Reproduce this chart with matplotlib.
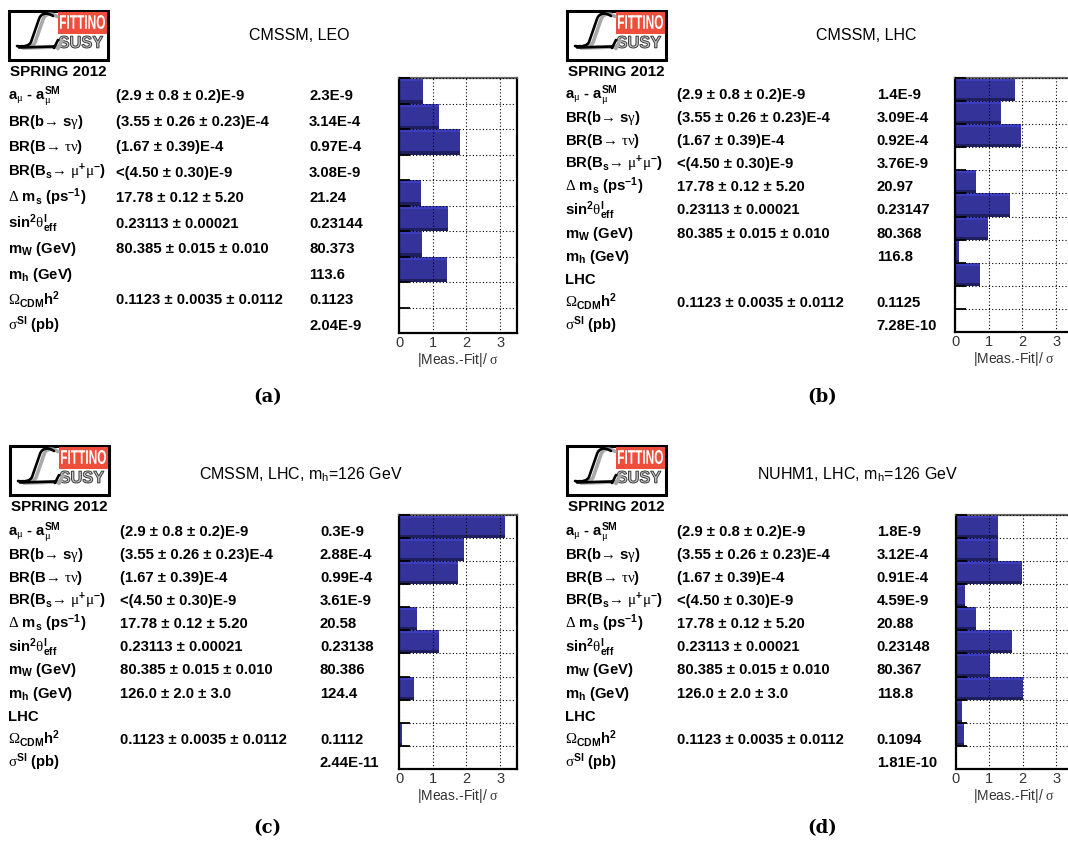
import matplotlib
matplotlib.use("Agg")
import matplotlib.pyplot as plt
import matplotlib.patches as mpatches
from matplotlib.path import Path
from matplotlib.textpath import TextPath
from matplotlib.font_manager import FontProperties
from matplotlib import transforms

W, H = 1068, 845

plt.rcParams['font.family'] = ['Liberation Sans', 'DejaVu Sans']
plt.rcParams['mathtext.fontset'] = 'custom'
plt.rcParams['mathtext.default'] = 'regular'
plt.rcParams['mathtext.rm'] = 'Liberation Sans'
plt.rcParams['mathtext.sf'] = 'Liberation Serif'

# observables (rows of the table)
obs_leo = [r'a$_{\mathsf{\mu}}$ - a$_{\mathsf{\mu}}^{SM}$',
           r'BR(b$\mathsf{→}$ s$\mathsf{\gamma}$)',
           r'BR(B$\mathsf{→}$ $\mathsf{\tau\nu}$)',
           r'BR(B$_{s}\mathsf{→}$ $\mathsf{\mu}^{+}\mathsf{\mu}^{-}$)',
           r'$\mathsf{\Delta}$ m$_{s}$ (ps$^{-1}$)',
           r'sin$^{2}\mathsf{\theta}^{l}_{eff}$',
           r'm$_{W}$ (GeV)',
           r'm$_{h}$ (GeV)',
           r'$\mathsf{\Omega}_{CDM}$h$^{2}$',
           r'$\mathsf{\sigma}^{SI}$ (pb)']
obs_lhc = obs_leo[:8] + ['LHC'] + obs_leo[8:]

meas_leo = ['(2.9 ± 0.8 ± 0.2)E-9', '(3.55 ± 0.26 ± 0.23)E-4', '(1.67 ± 0.39)E-4',
            '<(4.50 ± 0.30)E-9', '17.78 ± 0.12 ± 5.20', '0.23113 ± 0.00021',
            '80.385 ± 0.015 ± 0.010', '', '0.1123 ± 0.0035 ± 0.0112', '']
meas_lhc = meas_leo[:8] + [''] + meas_leo[8:]
meas_lhc126 = meas_leo[:7] + ['126.0 ± 2.0 ± 3.0', ''] + meas_leo[8:]

fit_a = ['2.3E-9', '3.14E-4', '0.97E-4', '3.08E-9', '21.24', '0.23144', '80.373',
         '113.6', '0.1123', '2.04E-9']
fit_b = ['1.4E-9', '3.09E-4', '0.92E-4', '3.76E-9', '20.97', '0.23147', '80.368',
         '116.8', '', '0.1125', '7.28E-10']
fit_c = ['0.3E-9', '2.88E-4', '0.99E-4', '3.61E-9', '20.58', '0.23138', '80.386',
         '124.4', '', '0.1112', '2.44E-11']
fit_d = ['1.8E-9', '3.12E-4', '0.91E-4', '4.59E-9', '20.88', '0.23148', '80.367',
         '118.8', '', '0.1094', '1.81E-10']

# |Meas.-Fit|/sigma
pull_a = [0.71, 1.19, 1.81, 0, 0.64, 1.45, 0.68, 1.41, 0, 0]
pull_b = [1.79, 1.35, 1.95, 0, 0.61, 1.62, 0.97, 0.11, 0.74, 0, 0]
pull_c = [3.15, 1.93, 1.75, 0, 0.53, 1.19, 0.02, 0.44, 0, 0.09, 0]
pull_d = [1.26, 1.26, 1.98, 0.28, 0.61, 1.68, 1.02, 2.01, 0.19, 0.25, 0]

titles = ['CMSSM, LEO', 'CMSSM, LHC', r'CMSSM, LHC, m$_{h}$=126 GeV',
          r'NUHM1, LHC, m$_{h}$=126 GeV']
captions = ['(a)', '(b)', '(c)', '(d)']

fig = plt.figure(figsize=(W / 100, H / 100), dpi=100)


def fx(x):
    return x / W


def fy(y):
    return 1 - y / H


def boxed_text(s, x, y, w, h, color, edge='none', lw=0.0):
    # squeeze text s into the pixel box (x, y = top-left)
    tp = TextPath((0, 0), s, size=10,
                  prop=FontProperties(family='Liberation Sans', weight='bold'))
    bb = tp.get_extents()
    t = (transforms.Affine2D().translate(-bb.x0, -bb.y0)
         .scale(w / bb.width, h / bb.height).translate(x, H - y - h))
    fig.add_artist(mpatches.PathPatch(t.transform_path(tp),
                                      transform=transforms.IdentityTransform(),
                                      facecolor=color, edgecolor=edge, lw=lw))


def draw_logo(x0, y0):
    w, h = 99, 49
    fig.add_artist(mpatches.Rectangle((fx(x0), fy(y0 + h)), w / W, h / H,
                                      transform=fig.transFigure, facecolor='white',
                                      edgecolor='black', lw=2.2))
    fig.add_artist(mpatches.Rectangle((fx(x0 + 48.5), fy(y0 + 22.5)), 49 / W, 21.5 / H,
                                      transform=fig.transFigure, facecolor='#f04e3c', lw=0))
    boxed_text('FITTINO', x0 + 51, y0 + 4, 45, 14, 'white')
    boxed_text('SUSY', x0 + 50, y0 + 25, 44, 12, '#c8c8c8', edge='#3a3a3a', lw=0.7)
    # the script "L"
    pts = [(44, 5), (38, 1), (32, 2), (30, 8), (22, 31), (20, 35), (15, 36), (8, 35),
           (10, 36.5), (45, 35.5), (45, 37), (49, 29)]
    codes = [Path.MOVETO, Path.CURVE4, Path.CURVE4, Path.CURVE4, Path.LINETO,
             Path.CURVE4, Path.CURVE4, Path.CURVE4, Path.MOVETO, Path.LINETO,
             Path.MOVETO, Path.LINETO]
    for dx, dy, col, lw in [(4, 0.5, '#a8a8a8', 2.6), (0, 0, 'black', 1.9)]:
        verts = [(fx(x0 + px + dx), fy(y0 + py + dy)) for px, py in pts]
        fig.add_artist(mpatches.PathPatch(Path(verts, codes), transform=fig.transFigure,
                                          facecolor='none', edgecolor=col, lw=lw,
                                          capstyle='round'))
    fig.text(fx(x0 + 49), fy(y0 + 64), 'SPRING 2012', fontsize=11, fontweight='bold',
             ha='center', va='baseline')


def draw_panel(obs, meas, fit, pull, title, caption, L):
    draw_logo(*L['logo'])
    fig.text(fx(L['title'][0]), fy(L['title'][1]), title, fontsize=11.5,
             ha=L['title_ha'], va='baseline')

    left, right, top, bottom = L['axes']
    ax = fig.add_axes([fx(left), fy(bottom), (right - left) / W, (bottom - top) / H])
    n = len(obs)
    rows = list(range(n))
    ax.barh(rows, pull, height=1.0, align='edge', color='#333399', lw=0, zorder=1)
    ax.barh(rows, pull, height=0.13, align='edge', color='#3d3dbf', lw=0, zorder=1)
    ax.barh([r + 0.87 for r in rows], pull, height=0.13, align='edge',
            color='#1f1f60', lw=0, zorder=1)
    ax.set_xlim(0, 3.5)
    ax.set_ylim(n, 0)
    ax.set_xticks([0, 1, 2, 3])
    ax.set_yticks(range(n + 1))
    ax.set_axisbelow(False)
    ax.grid(True, color='black', linestyle=(0, (1, 2)), linewidth=0.8)
    ax.tick_params(axis='y', direction='in', length=8, width=1.3, labelleft=False)
    ax.tick_params(axis='x', direction='in', length=0, labelsize=10.5, pad=1.5,
                   labelcolor='#333333')
    for s in ax.spines.values():
        s.set_linewidth(1.6)
    ax.spines['top'].set_color('#666666')
    ax.set_xlabel(r'|Meas.-Fit|/ $\mathsf{\sigma}$', fontsize=10, color='#333333',
                  labelpad=1)

    tr = transforms.blended_transform_factory(fig.transFigure, ax.transData)
    tr = transforms.offset_copy(tr, fig=fig, y=-8.5, units='dots')
    xl, xm, xf = L['cols']
    for i in rows:
        fig.text(fx(xl), i + 0.5, obs[i], transform=tr, fontsize=10.7,
                 fontweight='bold', va='baseline')
        fig.text(fx(xm), i + 0.5, meas[i], transform=tr, fontsize=10.7,
                 fontweight='bold', va='baseline')
        fig.text(fx(xf), i + 0.5, fit[i], transform=tr, fontsize=10.7,
                 fontweight='bold', va='baseline')

    fig.text(fx(L['cap'][0]), fy(L['cap'][1]), caption, fontsize=13, fontweight='bold',
             family='DejaVu Serif', ha='center', va='center')


layout_a = dict(logo=(9, 12), title=(299, 40), title_ha='center', cols=(8, 116, 309),
                axes=(399, 517, 79, 334), cap=(268, 397))
layout_b = dict(logo=(567, 12), title=(866, 40), title_ha='center',
                cols=(565, 676.7, 876.7), axes=(955, 1073, 79, 333), cap=(822, 397))
layout_c = dict(logo=(10, 447), title=(199, 479), title_ha='left', cols=(8, 120, 320),
                axes=(399, 517, 515.7, 770), cap=(267, 828))
layout_d = dict(logo=(567, 447), title=(757, 479), title_ha='left',
                cols=(565, 676.7, 876.7), axes=(955.7, 1073, 515.7, 770), cap=(822, 828))

draw_panel(obs_leo, meas_leo, fit_a, pull_a, titles[0], captions[0], layout_a)
draw_panel(obs_lhc, meas_lhc, fit_b, pull_b, titles[1], captions[1], layout_b)
draw_panel(obs_lhc, meas_lhc126, fit_c, pull_c, titles[2], captions[2], layout_c)
draw_panel(obs_lhc, meas_lhc126, fit_d, pull_d, titles[3], captions[3], layout_d)

fig.savefig('out.png', dpi=100)
